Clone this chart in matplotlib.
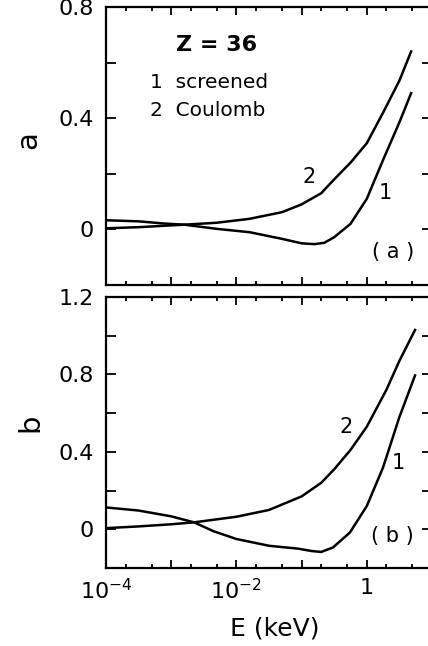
import numpy as np
import matplotlib
matplotlib.use("Agg")
from matplotlib import pyplot as plt
from matplotlib.ticker import FixedLocator, FixedFormatter, NullFormatter

# values, x as log10(E / keV)
loge_a1 = [-4, -3.5, -3.1, -2.8, -2.3, -1.8, -1.3, -1.0, -0.8, -0.65, -0.5, -0.25, 0, 0.25, 0.5, 0.68]
a_screened = [0.033, 0.029, 0.021, 0.017, 0.002, -0.01, -0.034, -0.05, -0.053, -0.048, -0.028, 0.02, 0.11, 0.25, 0.385, 0.49]
loge_a2 = [-4, -3.5, -2.8, -2.3, -1.8, -1.3, -1.0, -0.7, -0.5, -0.25, 0, 0.25, 0.5, 0.68]
a_coulomb = [0.004, 0.008, 0.017, 0.024, 0.038, 0.062, 0.09, 0.13, 0.18, 0.24, 0.31, 0.42, 0.535, 0.64]

loge_b1 = [-4, -3.5, -3.0, -2.65, -2.35, -2.0, -1.5, -1.05, -0.85, -0.7, -0.52, -0.26, 0, 0.25, 0.5, 0.74]
b_screened = [0.113, 0.097, 0.067, 0.036, -0.01, -0.05, -0.085, -0.10, -0.112, -0.117, -0.094, -0.017, 0.12, 0.32, 0.58, 0.795]
loge_b2 = [-4, -3.5, -3.0, -2.65, -2.0, -1.5, -1.0, -0.7, -0.5, -0.25, 0, 0.3, 0.5, 0.74]
b_coulomb = [0.006, 0.015, 0.026, 0.036, 0.065, 0.10, 0.17, 0.24, 0.31, 0.41, 0.53, 0.72, 0.87, 1.03]

x_major = [1e-4, 1e-3, 1e-2, 1e-1, 1, 10]
x_major_labels = ["$10^{-4}$", "", "$10^{-2}$", "", "1", ""]
x_minor = [m * 10.0 ** k for k in range(-4, 1) for m in (2, 5)]

fig = plt.figure(figsize=(4.28, 6.46), dpi=100)
ax_a = fig.add_axes([0.2477, 0.5588, 0.7616, 0.4304])
ax_b = fig.add_axes([0.2477, 0.1207, 0.7616, 0.4195])

panels = [
    (ax_a, loge_a1, a_screened, loge_a2, a_coulomb, (-0.2, 0.8), [0, 0.4, 0.8], ["0", "0.4", "0.8"], [-0.2, 0.2, 0.6]),
    (ax_b, loge_b1, b_screened, loge_b2, b_coulomb, (-0.2, 1.2), [0, 0.4, 0.8, 1.2], ["0", "0.4", "0.8", "1.2"], [-0.2, 0.2, 0.6, 1.0]),
]

for ax, le1, y1, le2, y2, ylim, yt, ytl, ymin in panels:
    ax.plot(10.0 ** np.array(le1), y1, color="black", lw=1.8)
    ax.plot(10.0 ** np.array(le2), y2, color="black", lw=1.8)
    ax.set_xscale("log")
    ax.set_xlim(1e-4, 10)
    ax.set_ylim(*ylim)
    ax.xaxis.set_major_locator(FixedLocator(x_major))
    ax.xaxis.set_minor_locator(FixedLocator(x_minor))
    ax.xaxis.set_minor_formatter(NullFormatter())
    ax.yaxis.set_major_locator(FixedLocator(yt))
    ax.yaxis.set_major_formatter(FixedFormatter(ytl))
    ax.yaxis.set_minor_locator(FixedLocator(ymin))
    ax.tick_params(which="both", direction="in", top=True, right=True, width=1.3, labelsize=16)
    ax.tick_params(axis="x", which="major", length=6)
    ax.tick_params(axis="x", which="minor", length=3)
    ax.tick_params(axis="y", which="both", length=7, pad=9)
    for s in ax.spines.values():
        s.set_linewidth(1.6)

ax_a.xaxis.set_major_formatter(NullFormatter())
ax_b.xaxis.set_major_formatter(FixedFormatter(x_major_labels))
ax_b.tick_params(axis="x", which="major", pad=7)

ax_a.set_ylabel("a", fontsize=21)
ax_a.yaxis.set_label_coords(-0.197, 0.52)
ax_b.set_ylabel("b", fontsize=21)
ax_b.yaxis.set_label_coords(-0.19, 0.535)
ax_b.set_xlabel("E (keV)", fontsize=18)
ax_b.xaxis.set_label_coords(0.518, -0.18)

ax_a.text(0.34, 0.863, "Z = 36", transform=ax_a.transAxes, fontsize=16, fontweight="bold", ha="center", va="center")
ax_a.text(0.135, 0.727, "1  screened", transform=ax_a.transAxes, fontsize=14.5, ha="left", va="center")
ax_a.text(0.135, 0.626, "2  Coulomb", transform=ax_a.transAxes, fontsize=14.5, ha="left", va="center")
ax_a.text(0.88, 0.12, "( a )", transform=ax_a.transAxes, fontsize=15, ha="center", va="center")
ax_a.text(10 ** -0.88, 0.187, "2", fontsize=15, ha="center", va="center")
ax_a.text(10 ** 0.28, 0.13, "1", fontsize=15, ha="center", va="center")

ax_b.text(0.88, 0.12, "( b )", transform=ax_b.transAxes, fontsize=15, ha="center", va="center")
ax_b.text(10 ** -0.31, 0.53, "2", fontsize=15, ha="center", va="center")
ax_b.text(10 ** 0.49, 0.345, "1", fontsize=15, ha="center", va="center")

fig.savefig("out.png", dpi=100)
